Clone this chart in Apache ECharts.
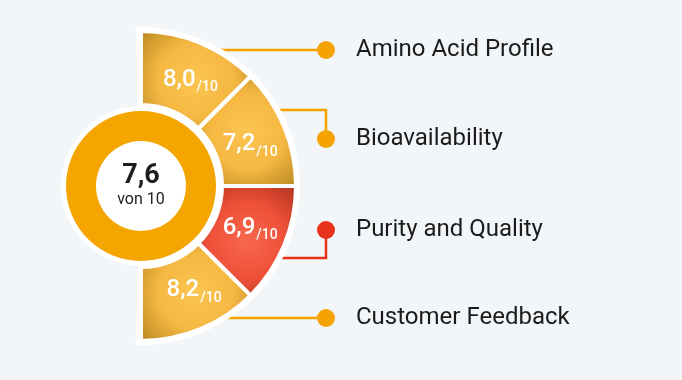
<!DOCTYPE html>
<html><head><meta charset="utf-8">
<script src="https://cdn.jsdelivr.net/npm/echarts@6/dist/echarts.min.js"></script>
<style>html,body{margin:0;padding:0;background:#F3F6F9}#c{width:682px;height:380px}</style>
</head><body><div id="c"></div>
<script>
// ---- data ----
const categories = ['Amino Acid Profile', 'Bioavailability', 'Purity and Quality', 'Customer Feedback'];
const scores = [8.0, 7.2, 6.9, 8.2];
const scaleMax = 10;
const overallScore = 7.6;
const tones = ['gold', 'gold', 'red', 'gold'];

// ---- layout / style ----
const cx = 141, cy = 186, R0 = 81, R1 = 155;
const dotX = 326;
const lineYs = [50, 110, 258, 318];
const dotYs = [50, 139, 230, 318];
const valueLabelAngles = [65, 21, -21, -63];
const valueLabelR = 117;
const fmt = v => v.toFixed(1).replace('.', ',');
const grad = {
  gold: { type: 'radial', x: 0.5, y: 0.5, r: 0.75, colorStops: [
    { offset: 0, color: '#FCC550' }, { offset: 0.5, color: '#F4B742' }, { offset: 1, color: '#B4841F' }] },
  red: { type: 'radial', x: 0.5, y: 0.5, r: 0.75, colorStops: [
    { offset: 0, color: '#F7684E' }, { offset: 0.5, color: '#EE5038' }, { offset: 1, color: '#A8301C' }] }
};
const lineCol = { gold: '#F5A300', red: '#E9321A' };

const chart = echarts.init(document.getElementById('c'));
chart.setOption({
  backgroundColor: '#F3F6F9',
  animation: false,
  series: [
    { // connectors + category labels
      type: 'pie', z: 1, silent: true, center: [cx, cy], radius: [R0, R1],
      startAngle: 90, endAngle: -90, avoidLabelOverlap: false,
      data: categories.map((c, i) => ({
        name: c, value: 1,
        itemStyle: { color: 'rgba(0,0,0,0)' },
        label: { rich: { dot: { backgroundColor: lineCol[tones[i]] } } },
        labelLine: { lineStyle: { color: lineCol[tones[i]] } }
      })),
      label: {
        show: true, position: 'outside',
        formatter: p => '{dot|}{t|' + p.name + '}',
        rich: {
          dot: { width: 18, height: 18, borderRadius: 9 },
          t: { fontFamily: 'Roboto', fontSize: 24, color: '#1B1B1B', padding: [0, 0, 0, 21] }
        }
      },
      labelLine: { show: true, smooth: false, lineStyle: { width: 2.5 } },
      labelLayout: function (p) {
        const i = p.dataIndex;
        const ly = lineYs[i], dy = dotYs[i];
        const xs = cx + Math.sqrt(R1 * R1 - (ly - cy) * (ly - cy)) - 14;
        return {
          x: dotX - 9, y: dy, align: 'left', verticalAlign: 'middle',
          labelLinePoints: [[xs, ly], [dotX, ly], [dotX, dy]]
        };
      }
    },
    { // white backing half disc
      type: 'pie', z: 2, silent: true, center: [cx, cy], radius: [0, R1 + 4],
      startAngle: 92, endAngle: -92, label: { show: false }, labelLine: { show: false },
      data: [{ value: 1, itemStyle: { color: '#FFFFFF' } }]
    },
    { // score segments
      type: 'pie', z: 3, silent: true, center: [cx, cy], radius: [R0, R1],
      startAngle: 90, endAngle: -90,
      itemStyle: { borderColor: '#FFFFFF', borderWidth: 4 },
      data: categories.map((c, i) => ({
        name: c, value: 1,
        itemStyle: { color: grad[tones[i]] }
      })),
      label: {
        show: true, position: 'inside',
        formatter: p => '{v|' + fmt(scores[p.dataIndex]) + '}{s|/' + scaleMax + '}',
        rich: {
          v: { fontFamily: 'Roboto', fontSize: 24, fontWeight: 500, color: '#FFFFFF' },
          s: { fontFamily: 'Roboto', fontSize: 14, fontWeight: 500, color: '#FFFFFF', padding: [16, 0, 0, 1] }
        }
      },
      labelLayout: function (p) {
        const a = valueLabelAngles[p.dataIndex] * Math.PI / 180;
        return { x: cx + valueLabelR * Math.cos(a), y: cy - valueLabelR * Math.sin(a), align: 'center', verticalAlign: 'middle' };
      },
      labelLine: { show: false }
    },
    { // white disc behind ring
      type: 'pie', z: 4, silent: true, center: [cx, cy], radius: [0, 80],
      label: { show: false }, labelLine: { show: false },
      data: [{ value: 1, itemStyle: { color: '#FFFFFF' } }]
    },
    { // orange ring with overall score
      type: 'pie', z: 5, silent: true, center: [cx, cy], radius: [45, 75],
      labelLine: { show: false },
      data: [{ value: overallScore, itemStyle: { color: '#F5A500' } }],
      label: {
        show: true, position: 'center',
        formatter: () => '{a|' + fmt(overallScore) + '}\n{b|von ' + scaleMax + '}',
        rich: {
          a: { fontFamily: 'Roboto', fontSize: 27, fontWeight: 'bold', color: '#1E1E1E', lineHeight: 27 },
          b: { fontFamily: 'Roboto', fontSize: 16, color: '#222222', lineHeight: 20 }
        }
      }
    }
  ]
});
</script></body></html>
